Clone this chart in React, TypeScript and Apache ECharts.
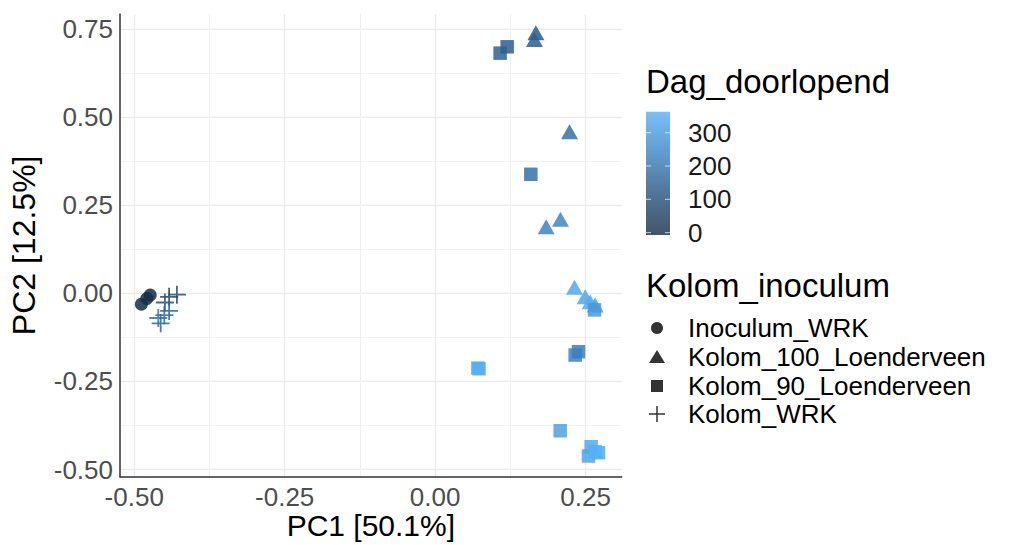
import React, { useEffect, useRef } from 'react';
import * as echarts from 'echarts';

// ---------- data ----------
const groupNames = ['Inoculum_WRK', 'Kolom_100_Loenderveen', 'Kolom_90_Loenderveen', 'Kolom_WRK'];

// [PC1, PC2, Dag_doorlopend]
const inoculumWRK = [
  [-0.4734, -0.0048, 0],
  [-0.4790, -0.0150, 0],
  [-0.4880, -0.0310, 0],
];
const kolom100 = [
  [0.1674, 0.739, 140],
  [0.165, 0.72, 150],
  [0.2233, 0.458, 195],
  [0.2083, 0.21, 250],
  [0.1845, 0.189, 245],
  [0.2316, 0.017, 340],
  [0.2493, -0.01, 330],
  [0.2576, -0.024, 345],
  [0.266, -0.033, 320],
];
const kolom90 = [
  [0.108, 0.681, 160],
  [0.1197, 0.699, 150],
  [0.159, 0.3375, 200],
  [0.2648, -0.047, 300],
  [0.2327, -0.175, 240],
  [0.2382, -0.1656, 230],
  [0.071, -0.212, 360],
  [0.073, -0.214, 355],
  [0.2078, -0.3897, 320],
  [0.2593, -0.435, 340],
  [0.2715, -0.452, 350],
  [0.2548, -0.4614, 330],
  [0.266, -0.449, 360],
];
const kolomWRK = [
  [-0.4290, -0.004, 90],
  [-0.4420, -0.010, 80],
  [-0.4490, -0.026, 110],
  [-0.4420, -0.050, 160],
  [-0.4500, -0.062, 180],
  [-0.4600, -0.070, 200],
  [-0.4560, -0.085, 170],
];

const dagDomain = [-7, 363];
const dagTicks = [0, 100, 200, 300];
const xRange = [-0.5236, 0.31];
const yRange = [-0.52, 0.792];

// ---------- style ----------
const FONT = '"Liberation Sans", Arial, Helvetica, sans-serif';
const gradientColors = ['#132B43', '#24527f', '#3b82c2', '#56B1F7'];
const pointOpacity = 0.85;
const crossPath = 'path://M0,9L20,9L20,11L0,11Z M9,0L11,0L11,20L9,20Z';

const isMajor = (v: number, step: number) => Math.abs(v / step - Math.round(v / step)) < 1e-6;
const fmt = (v: number) => (Math.abs(v) < 1e-9 ? 0 : v).toFixed(2);

export default function App() {
  const ref = useRef<HTMLDivElement>(null);

  useEffect(() => {
    if (!ref.current) return;
    const chart = echarts.init(ref.current, undefined, { renderer: 'svg' });

    const grid = { left: 120, right: 395.3, top: 14, bottom: 68.3, containLabel: false, outerBoundsMode: 'none' };

    // colorbar geometry
    const cbX = 646;
    const cbTop = 111.7;
    const cbH = 123.3;
    const cbW = 24;
    const cbY = (v: number) => cbTop + cbH - ((v - dagDomain[0]) / (dagDomain[1] - dagDomain[0])) * cbH;

    const graphics: any[] = [];
    graphics.push({
      type: 'text',
      x: 646,
      y: 81,
      style: { text: 'Dag_doorlopend', font: `33px ${FONT}`, fill: '#000', verticalAlign: 'middle' },
    });
    const n = gradientColors.length;
    // gradient from top (high) to bottom (low); offsets ascending
    const stops = gradientColors
      .slice()
      .reverse()
      .map((c, i) => ({ offset: i / (n - 1), color: c }));
    graphics.push({
      type: 'rect',
      shape: { x: cbX, y: cbTop, width: cbW, height: cbH },
      style: {
        fill: new echarts.graphic.LinearGradient(0, 0, 0, 1, stops),
        opacity: 0.8,
      },
    });
    dagTicks.forEach((t) => {
      const y = cbY(t);
      graphics.push({
        type: 'line',
        shape: { x1: cbX, y1: y, x2: cbX + 5, y2: y },
        style: { stroke: '#fff', lineWidth: 1, opacity: 0.7 },
      });
      graphics.push({
        type: 'line',
        shape: { x1: cbX + cbW - 5, y1: y, x2: cbX + cbW, y2: y },
        style: { stroke: '#fff', lineWidth: 1, opacity: 0.7 },
      });
      graphics.push({
        type: 'text',
        x: 688,
        y,
        style: { text: String(t), font: `26px ${FONT}`, fill: '#1a1a1a', verticalAlign: 'middle', align: 'left' },
      });
    });

    graphics.push({
      type: 'text',
      x: 646,
      y: 285,
      style: { text: 'Kolom_inoculum', font: `33px ${FONT}`, fill: '#000', verticalAlign: 'middle' },
    });
    const legY = [328, 357, 386, 414];
    const symX = 657;
    const symColor = '#333';
    graphics.push({ type: 'circle', shape: { cx: symX, cy: legY[0], r: 6 }, style: { fill: symColor } });
    graphics.push({
      type: 'polygon',
      shape: { points: [[symX, legY[1] - 7], [symX + 8, legY[1] + 6], [symX - 8, legY[1] + 6]] },
      style: { fill: symColor },
    });
    graphics.push({ type: 'rect', shape: { x: symX - 6, y: legY[2] - 6, width: 12, height: 12 }, style: { fill: symColor } });
    graphics.push({ type: 'line', shape: { x1: symX - 8, y1: legY[3], x2: symX + 8, y2: legY[3] }, style: { stroke: symColor, lineWidth: 1.5 } });
    graphics.push({ type: 'line', shape: { x1: symX, y1: legY[3] - 8, x2: symX, y2: legY[3] + 8 }, style: { stroke: symColor, lineWidth: 1.5 } });
    groupNames.forEach((name, i) => {
      graphics.push({
        type: 'text',
        x: 688,
        y: legY[i],
        style: { text: name, font: `26px ${FONT}`, fill: '#000', verticalAlign: 'middle', align: 'left' },
      });
    });

    const axisCommon = (name: string, min: number, max: number) => ({
      type: 'value' as const,
      min,
      max,
      minInterval: 0.25,
      maxInterval: 0.25,
      name,
      nameLocation: 'middle' as const,
      nameMoveOverlap: false,
      nameTextStyle: { fontSize: 30, lineHeight: 30, color: '#000', fontFamily: FONT },
      axisLine: { show: true, onZero: false, lineStyle: { color: '#333', width: 1.5 } },
      axisTick: { show: false },
      axisLabel: {
        color: '#4D4D4D',
        fontSize: 26,
        lineHeight: 26,
        fontFamily: FONT,
        formatter: (v: number) => (isMajor(v, 0.25) ? fmt(v) : ''),
      },
      splitLine: { show: true, showMinLine: false, showMaxLine: false, lineStyle: { color: '#EBEBEB', width: 1.3 } },
      minorTick: { show: false, splitNumber: 2 },
      minorSplitLine: { show: true, lineStyle: { color: '#EEEEEE', width: 0.9 } },
    });

    const xAxis: any = axisCommon('PC1 [50.1%]', xRange[0], xRange[1]);
    xAxis.nameGap = 33.5;
    xAxis.axisLabel.margin = 7;
    const yAxis: any = axisCommon('PC2 [12.5%]', yRange[0], yRange[1]);
    yAxis.nameGap = 80;
    yAxis.nameTextStyle.fontSize = 32;
    yAxis.nameTextStyle.lineHeight = 32;
    yAxis.axisLabel.margin = 7;

    const mk = (name: string, data: number[][], symbol: string, size: any) => ({
      type: 'scatter',
      name,
      data,
      symbol,
      symbolSize: size,
      encode: { x: 0, y: 1 },
      itemStyle: { opacity: pointOpacity },
      emphasis: { disabled: true },
    });

    chart.setOption({
      animation: false,
      backgroundColor: '#fff',
      textStyle: { fontFamily: FONT },
      grid,
      xAxis,
      yAxis,
      visualMap: {
        type: 'continuous',
        show: false,
        dimension: 2,
        min: dagDomain[0],
        max: dagDomain[1],
        inRange: { color: gradientColors },
        seriesIndex: [0, 1, 2, 3],
      },
      series: [
        mk(groupNames[0], inoculumWRK, 'circle', 13),
        mk(groupNames[1], kolom100, 'triangle', [17, 15]),
        mk(groupNames[2], kolom90, 'rect', 13.5),
        mk(groupNames[3], kolomWRK, crossPath, 18),
      ],
      graphic: graphics,
    });

    return () => chart.dispose();
  }, []);

  return (
    <div
      ref={ref}
      style={{ position: 'fixed', left: 0, top: 0, width: 1017, height: 545, background: '#fff' }}
    />
  );
}
